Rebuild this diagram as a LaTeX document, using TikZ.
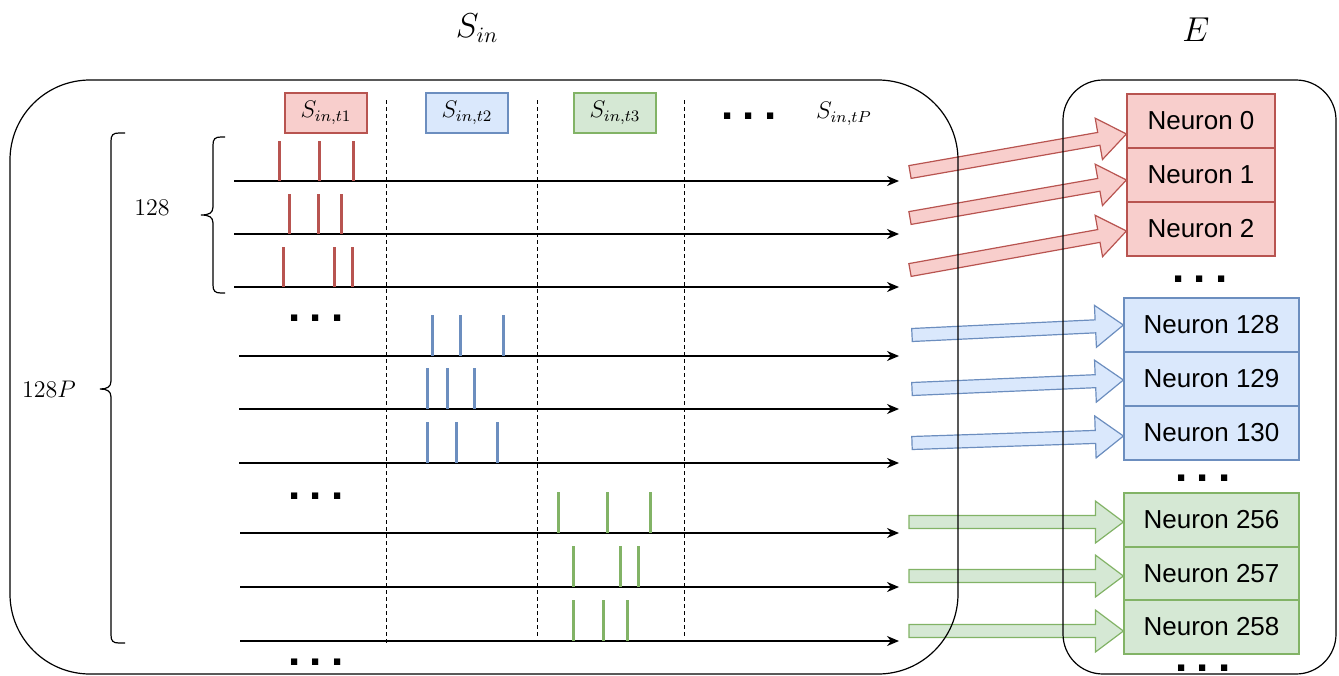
\documentclass[tikz,border=0pt]{standalone}
\usepackage{fontspec}
\newfontfamily\arialfont{Liberation Sans}
\usetikzlibrary{calc,arrows.meta}

\definecolor{redfill}{HTML}{F8CECC}
\definecolor{redline}{HTML}{B85450}
\definecolor{bluefill}{HTML}{DAE8FC}
\definecolor{blueline}{HTML}{6C8EBF}
\definecolor{greenfill}{HTML}{D5E8D4}
\definecolor{greenline}{HTML}{82B366}

% Block arrow from tail coordinate #1 to tip coordinate #2, style #3
\newcommand{\fatarrow}[3]{%
  \coordinate (fa-h) at ($(#2)!14pt!(#1)$);
  \filldraw[#3, line join=miter]
    ($(#1)!3.25pt!90:(#2)$) -- ($(fa-h)!3.25pt!90:(#2)$) -- ($(fa-h)!10.5pt!90:(#2)$) -- (#2)
    -- ($(fa-h)!10.5pt!-90:(#2)$) -- ($(fa-h)!3.25pt!-90:(#2)$) -- ($(#1)!3.25pt!-90:(#2)$) -- cycle;
}

\begin{document}
\begin{tikzpicture}[x=0.5pt,y=-0.5pt,
  neuron/.style={draw, line width=0.6pt, minimum height=27pt, inner sep=0pt,
    font=\arialfont\fontsize{13}{15}\selectfont},
  neuR/.style={neuron, fill=redfill, draw=redline, minimum width=74pt},
  neuB/.style={neuron, fill=bluefill, draw=blueline, minimum width=87.5pt},
  neuG/.style={neuron, fill=greenfill, draw=greenline, minimum width=87.5pt},
  tag/.style={draw, line width=0.6pt, minimum width=41pt, minimum height=20pt, inner sep=0pt,
    font=\fontsize{12}{14}\selectfont},
  spike/.style={line width=1.5pt},
  track/.style={line width=0.65pt, -{Stealth[length=6pt,width=5pt]}},
  divider/.style={line width=0.5pt, dash pattern=on 2pt off 1.5pt},
  container/.style={draw, line width=0.6pt},
  brace/.style={line width=0.6pt},
  dotrow/.style={font=\arialfont\bfseries\fontsize{22}{22}\selectfont, inner sep=0pt},
  redarrow/.style={fill=redfill, draw=redline, line width=0.6pt},
  bluearrow/.style={fill=bluefill, draw=blueline, line width=0.6pt},
  greenarrow/.style={fill=greenfill, draw=greenline, line width=0.6pt},
  title/.style={font=\fontsize{16}{18}\selectfont},
  count/.style={font=\fontsize{12}{14}\selectfont}
]
\useasboundingbox (0,0) rectangle (1339,675);

% titles
\node[title] (tin) at (477,28) {$S_{in}$};
\node[title] (te) at (1196,30) {$E$};

% output neurons
\node[neuR] (n0) at (1201,121) {Neuron 0};
\node[neuR] (n1) at (1201,175) {Neuron 1};
\node[neuR] (n2) at (1201,229) {Neuron 2};
\node[neuB] (n128) at (1211.5,325) {Neuron 128};
\node[neuB] (n129) at (1211.5,379) {Neuron 129};
\node[neuB] (n130) at (1211.5,433) {Neuron 130};
\node[neuG] (n256) at (1211.5,520) {Neuron 256};
\node[neuG] (n257) at (1211.5,574) {Neuron 257};
\node[neuG] (n258) at (1211.5,627) {Neuron 258};

% block arrows into the neurons
\coordinate (a0) at (910,172);  \coordinate (p0) at ($(n0.west)+(0,13)$);
\coordinate (a1) at (910,218);  \coordinate (p1) at ($(n1.west)+(0,5)$);
\coordinate (a2) at (910,270);  \coordinate (p2) at ($(n2.west)+(0,2)$);
\coordinate (a3) at (912,335);  \coordinate (p3) at ($(n128.west)+(0,0)$);
\coordinate (a4) at (912,389);  \coordinate (p4) at ($(n129.west)+(0,1)$);
\coordinate (a5) at (912,443);  \coordinate (p5) at ($(n130.west)+(0,3)$);
\coordinate (a6) at (909,522);  \coordinate (p6) at ($(n256.west)+(0,2)$);
\coordinate (a7) at (909,576);  \coordinate (p7) at ($(n257.west)+(0,2)$);
\coordinate (a8) at (909,631);  \coordinate (p8) at ($(n258.west)+(0,4)$);
\fatarrow{a0}{p0}{redarrow}
\fatarrow{a1}{p1}{redarrow}
\fatarrow{a2}{p2}{redarrow}
\fatarrow{a3}{p3}{bluearrow}
\fatarrow{a4}{p4}{bluearrow}
\fatarrow{a5}{p5}{bluearrow}
\fatarrow{a6}{p6}{greenarrow}
\fatarrow{a7}{p7}{greenarrow}
\fatarrow{a8}{p8}{greenarrow}

% containers
\draw[container, rounded corners=40pt] (10,80) rectangle (958,674);
\draw[container, rounded corners=20pt] (1063,80) rectangle (1336,674);

% time-step tags
\node[tag, fill=redfill, draw=redline] (s1) at (326,113) {$S_{in,t1}$};
\node[tag, fill=bluefill, draw=blueline] (s2) at (467,113) {$S_{in,t2}$};
\node[tag, fill=greenfill, draw=greenline] (s3) at (615,113) {$S_{in,t3}$};
\node[dotrow] (sd) at (749,116) {.\hspace{4.6pt}.\hspace{4.6pt}.};
\node[font=\fontsize{12}{14}\selectfont] (sP) at (844,114) {$S_{in,tP}$};

% dashed separators
\draw[divider] (386,100) -- (386,643);
\draw[divider] (537,100) -- (537,636);
\draw[divider] (684,100) -- (684,636);

% input spike tracks
\foreach \y/\x in {181/234, 234/234, 287/234, 356/239, 409/239, 463/239, 533/240, 587/240, 641/240} {
  \coordinate (ts) at (\x,\y);
  \coordinate (tt) at (899,\y);
  \draw[track] (ts) -- (tt);
}

% spikes
\foreach \b/\xs in {181/{279,319,353}, 234/{289,318,341}, 287/{283,334,352}}
  \foreach \x in \xs \draw[spike, redline] (\x,\b) -- (\x,\b-40);
\foreach \b/\xs in {356/{432,460,503}, 409/{427,447,474}, 463/{427,456,497}}
  \foreach \x in \xs \draw[spike, blueline] (\x,\b) -- (\x,\b-41);
\foreach \b/\xs in {533/{558,607,650}, 587/{573,620,638}, 641/{573,603,627}}
  \foreach \x in \xs \draw[spike, greenline] (\x,\b) -- (\x,\b-41);

% ellipses
\node[dotrow] (dl1) at (316,318) {.\hspace{4.6pt}.\hspace{4.6pt}.};
\node[dotrow] (dl2) at (316,496) {.\hspace{4.6pt}.\hspace{4.6pt}.};
\node[dotrow] (dl3) at (316,662) {.\hspace{4.6pt}.\hspace{4.6pt}.};
\node[dotrow] (dr1) at (1200,279) {.\hspace{4.6pt}.\hspace{4.6pt}.};
\node[dotrow] (dr2) at (1203,478) {.\hspace{4.6pt}.\hspace{4.6pt}.};
\node[dotrow] (dr3) at (1203,668) {.\hspace{4.6pt}.\hspace{4.6pt}.};

% braces
\draw[brace] (225,137) -- (221,137) .. controls (215,137) and (213,139) .. (213,145) -- (213,207)
  .. controls (213,213) and (209,215) .. (201,215) .. controls (209,215) and (213,217) .. (213,223)
  -- (213,285) .. controls (213,291) and (215,293) .. (221,293) -- (225,293);
\node[count] (c128) at (152,208) {128};
\draw[brace] (125,133) -- (119,133) .. controls (113,133) and (111,135) .. (111,141) -- (111,381)
  .. controls (111,387) and (107,389) .. (100,389) .. controls (107,389) and (111,391) .. (111,397)
  -- (111,635) .. controls (111,641) and (113,643) .. (119,643) -- (125,643);
\node[count] (c128p) at (49,389) {$128P$};
\end{tikzpicture}
\end{document}
